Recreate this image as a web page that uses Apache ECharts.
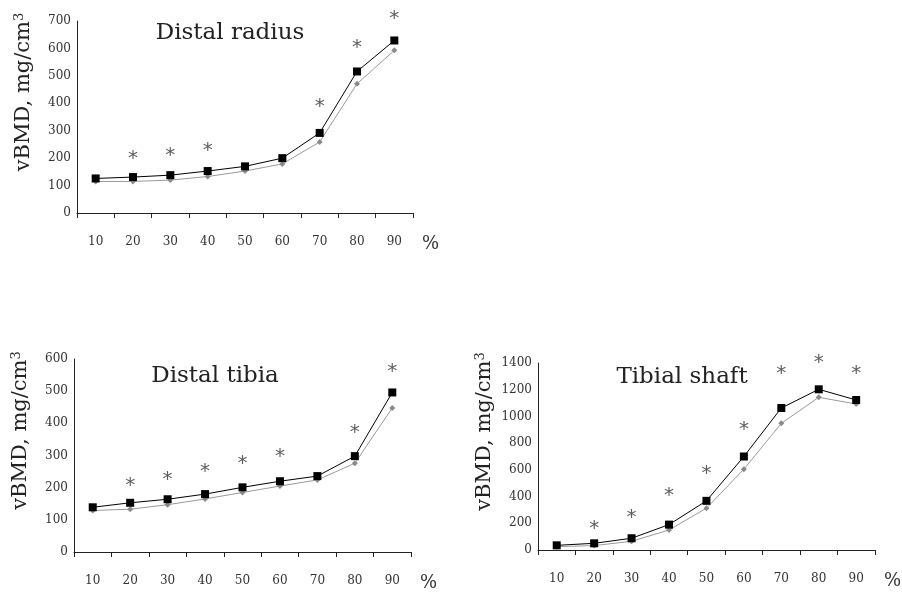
<!DOCTYPE html>
<html><head><meta charset="utf-8">
<script src="https://cdn.jsdelivr.net/npm/echarts@6/dist/echarts.min.js"></script>
<style>html,body{margin:0;padding:0;background:#fff}#c{width:902px;height:592px}</style>
</head><body><div id="c"></div>
<script>
var categories = ['10','20','30','40','50','60','70','80','90'];
var radiusA = [126,131,138,153,170,200,292,516,629];
var radiusB = [115,115,120,133,153,179,259,471,593];
var radiusStar = [null,208,220,239,null,null,397,615,718];
var tibiaA = [139,153,164,180,201,220,236,298,496];
var tibiaB = [129,133,147,165,185,205,224,276,448];
var tibiaStar = [null,216,234,260,284,305,null,381,571];
var shaftA = [35,50,88,190,368,700,1063,1203,1123];
var shaftB = [25,33,65,150,313,605,948,1143,1093];
var shaftStar = [null,180,260,425,590,925,1345,1425,1345];
var titles = ['Distal radius','Distal tibia','Tibial shaft'];

var serif = 'DejaVu Serif';
var grids = [
  {left:77, top:21, width:336, height:192},
  {left:74, top:359, width:337, height:194},
  {left:538, top:363, width:340, height:187}
];
var yMax = [700,600,1400], yInt = [100,100,200];
var xAxes = [], yAxes = [], series = [];
grids.forEach(function(g,i){
  xAxes.push({type:'category', gridIndex:i, data:categories, boundaryGap:true,
    axisLine:{lineStyle:{color:'#222',width:1}}, axisTick:{show:true,length:5,inside:false,lineStyle:{color:'#222'}},
    axisLabel:{color:'#333', fontFamily:serif, fontSize:12, margin:23},
    name:'%', nameLocation:'end', nameGap:9,
    nameTextStyle:{color:'#333', fontFamily:serif, fontSize:18, verticalAlign:'top', padding:[22,0,0,0]}
  });
  yAxes.push({type:'value', gridIndex:i, min:0, max:yMax[i], interval:yInt[i],
    splitLine:{show:false},
    axisLine:{show:true, lineStyle:{color:'#222',width:1}}, axisTick:{show:false},
    axisLabel:{color:'#333', fontFamily:serif, fontSize:12, margin:6, formatter:function(v){return String(v);}},
    name:'vBMD, mg/cm{s|3}', nameLocation:'middle', nameRotate:90, nameGap:42,
    nameTextStyle:{color:'#222', fontFamily:serif, fontSize:21, padding:[0,0,0,50],
      rich:{s:{fontFamily:serif, fontSize:13, verticalAlign:'top', padding:[0,0,9,0], color:'#222'}}}
  });
});
var As=[radiusA,tibiaA,shaftA], Bs=[radiusB,tibiaB,shaftB], Ss=[radiusStar,tibiaStar,shaftStar];
for (var i=0;i<3;i++){
  series.push({type:'line', xAxisIndex:i, yAxisIndex:i, data:Bs[i], symbol:'diamond', symbolSize:6,
    lineStyle:{color:'#999',width:1}, itemStyle:{color:'#8a8a8a'}, z:2});
  series.push({type:'line', xAxisIndex:i, yAxisIndex:i, data:As[i], symbol:'rect', symbolSize:8,
    lineStyle:{color:'#000',width:1}, itemStyle:{color:'#000'}, z:3});
  series.push({type:'scatter', xAxisIndex:i, yAxisIndex:i, data:Ss[i], symbolSize:1, clip:false,
    itemStyle:{color:'rgba(0,0,0,0)'},
    label:{show:true, position:'inside', formatter:'*', color:'#333', fontFamily:'DejaVu Sans', fontSize:20, offset:[0,3]}});
}
var titlePos = [[230,33],[215,376],[682,377]];
var graphic = titles.map(function(t,i){
  return {type:'text', x:titlePos[i][0], y:titlePos[i][1],
    style:{text:t, font:'23px "'+serif+'"', fill:'#222', align:'center', verticalAlign:'middle'}};
});
var chart = echarts.init(document.getElementById('c'));
chart.setOption({animation:false, grid:grids, xAxis:xAxes, yAxis:yAxes, series:series, graphic:graphic});
</script></body></html>
